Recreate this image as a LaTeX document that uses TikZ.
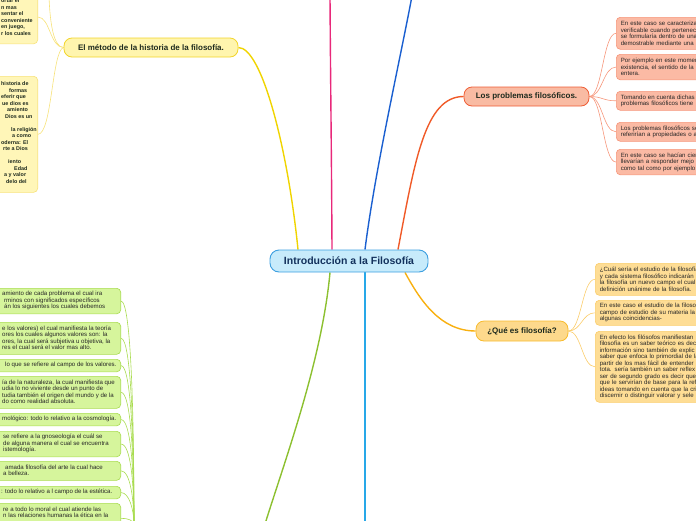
\documentclass[tikz,border=0pt]{standalone}
\usepackage{fontspec}
\setmainfont{Liberation Sans}
\usetikzlibrary{backgrounds}
\definecolor{cfill}{HTML}{C7EBFB}
\definecolor{cbord}{HTML}{3C9FE0}
\definecolor{ctext}{HTML}{13315C}
\definecolor{yfill}{HTML}{FFF5AE}
\definecolor{ybord}{HTML}{F2D52B}
\definecolor{ysfill}{HTML}{FFF6B8}
\definecolor{ysbord}{HTML}{F7E27A}
\definecolor{rfill}{HTML}{F9BBA3}
\definecolor{rbord}{HTML}{EF5D35}
\definecolor{rsfill}{HTML}{FBBAA4}
\definecolor{rsbord}{HTML}{F6967B}
\definecolor{ofill}{HTML}{FDD98C}
\definecolor{obord}{HTML}{F8BB2C}
\definecolor{osfill}{HTML}{FEDD95}
\definecolor{osbord}{HTML}{FBCD6B}
\definecolor{gsfill}{HTML}{D6F59C}
\definecolor{gsbord}{HTML}{A9DC50}
\definecolor{lyellow}{HTML}{F0D400}
\definecolor{lpink}{HTML}{E8287A}
\definecolor{lblue}{HTML}{1A5FD0}
\definecolor{lred}{HTML}{F05A28}
\definecolor{lorange}{HTML}{F8B010}
\definecolor{lcyan}{HTML}{28A8E8}
\definecolor{lgreen}{HTML}{8CC030}
\definecolor{subtext}{HTML}{262626}
\definecolor{titletext}{HTML}{1E2A1E}
\begin{document}
\begin{tikzpicture}[x=1pt,y=-1pt,
  central/.style={draw=cbord, fill=cfill, line width=0.9pt, rounded corners=9pt, minimum width=158pt, minimum height=22pt, inner sep=0pt, text=ctext, font=\bfseries\fontsize{10.5}{12}\selectfont},
  topic/.style={line width=0.8pt, rounded corners=8pt, inner sep=0pt, text=titletext, font=\bfseries\fontsize{8}{9}\selectfont},
  sbox/.style={line width=0.6pt, rounded corners=4pt, inner sep=0pt},
  stext/.style={inner sep=0pt, align=left, text=subtext, font=\fontsize{6.1}{6.5}\selectfont},
  mtext/.style={inner sep=0pt, align=left, text=titletext, font=\bfseries\fontsize{5.4}{6.5}\selectfont},
  rbox/.style={sbox, anchor=north west, align=left, text width=150pt, inner xsep=4.5pt, inner ysep=0pt, text=subtext, font=\fontsize{6.1}{6.5}\selectfont},
  gbox/.style={sbox, draw=gsbord, fill=gsfill, anchor=north east, minimum width=140pt},
  ybox/.style={sbox, draw=ysbord, fill=ysfill, anchor=north east, minimum width=60pt},
  branch/.style={line width=1.4pt},
  conn/.style={line width=0.6pt}]
\useasboundingbox (0,0) rectangle (696,520);
\begin{scope}
\clip (0,0) rectangle (696,520);
% central and main topics
\node[central] (c) at (349,261) {Introducción a la Filosofía};
\node[topic, draw=ybord, fill=yfill, minimum width=174pt, minimum height=19pt] (meth) at (151,47.5) {El método de la historia de la filosofía.};
\node[topic, draw=rbord, fill=rfill, minimum width=125pt, minimum height=19pt] (prob) at (526.5,96.5) {Los problemas filosóficos.};
\node[topic, draw=obord, fill=ofill, minimum width=92pt, minimum height=20pt] (que) at (522,331) {¿Qué es filosofía?};
% problems subtopics
\node[rbox, draw=rsbord, fill=rsfill, minimum height=32pt] (p1) at (616,17) {En este caso se caracteriza\\verificable cuando pertenec\\se formularía dentro de una\\demostrable mediante una};
\node[rbox, draw=rsbord, fill=rsfill, minimum height=25.5pt] (p2) at (616,54) {Por ejemplo en este momen\\existencia, el sentido de la\\entera.};
\node[rbox, draw=rsbord, fill=rsfill, minimum height=19pt] (p3) at (616,91) {Tomando en cuenta dichas\\problemas filosóficos tiene};
\node[rbox, draw=rsbord, fill=rsfill, minimum height=19pt] (p4) at (616,122) {Los problemas filosóficos se\\referirían a propiedades o a};
\node[rbox, draw=rsbord, fill=rsfill, minimum height=25.5pt] (p5) at (616,149) {En este caso se hacían cier\\llevarían a responder mejo\\como tal como por ejemplo};
% que subtopics
\node[rbox, draw=osbord, fill=osfill, minimum height=32pt] (q1) at (595,263) {¿Cuál sería el estudio de la filosofía\\y cada sistema filosófico indicarán\\la filosofía un nuevo campo el cual\\definición unánime de la filosofía.};
\node[rbox, draw=osbord, fill=osfill, minimum height=25pt] (q2) at (595,300) {En este caso el estudio de la filosof\\campo de estudio de su materia la\\algunas coincidencias-};
\node[rbox, draw=osbord, fill=osfill, minimum height=71pt] (q3) at (595,331) {En efecto los filósofos manifiestan\\filosofía es un saber teórico es decir\\información sino también de explic\\saber que enfoca lo primordial de la\\partir de los mas fácil de entender\\tota. sería también un saber reflex\\ser de segundo grado es decir que\\que le servirían de base para la ref\\ideas tomando en cuenta que la cri\\discernir o distinguir valorar y sele};
% method subtopics
\node[ybox, minimum height=53.5pt] (m1) at (38,-10) {};
\node[mtext, anchor=west] (m1t) at (1,17.2) {ortar el\\n mas\\sentar el\\conveniente\\en juego,\\r los cuales};
\node[ybox, minimum height=116pt] (m2) at (38,76) {};
\node[mtext, anchor=west] (m2t) at (1,132.5) {historia de\\\hspace*{8pt}formas\\eferir que\\\hspace*{1pt}ue dios es\\\hspace*{6pt}amiento\\\hspace*{4pt}Dios es un\\[6.5pt]\hspace*{10pt}la religión\\\hspace*{11pt}a como\\oderna: El\\\hspace*{2pt}rte a Dios\\[6.5pt]\hspace*{7pt}iento\\\hspace*{13pt}Edad\\\hspace*{3pt}a y valor\\\hspace*{5pt}delo del};
% green subtopics
\node[gbox, minimum height=25.5pt] (g1) at (121,288) {};
\node[stext, anchor=west] (g1t) at (2,300.75) {amiento de cada problema el cual ira\\\hspace*{2pt}rminos con significados específicos\\\hspace*{2pt}án los siguientes los cuales debemos};
\node[gbox, minimum height=32pt] (g2) at (121,322) {};
\node[stext, anchor=west] (g2t) at (2,338) {e los valores) el cual manifiesta la teoría\\ores los cuales algunos valores son: la\\ores, la cual será subjetiva u objetiva, la\\res el cual será el valor mas alto.};
\node[gbox, minimum height=12.5pt] (g3) at (121,359) {};
\node[stext, anchor=west] (g3t) at (5,365.25) {lo que se refiere al campo de los valores.};
\node[gbox, minimum height=32pt] (g4) at (121,376) {};
\node[stext, anchor=west] (g4t) at (2,392) {ía de la naturaleza, la cual manifiesta que\\udia lo no viviente desde un punto de\\tudia también el origen del mundo y de la\\do como realidad absoluta.};
\node[gbox, minimum height=12.5pt] (g5) at (121,413) {};
\node[stext, anchor=west] (g5t) at (2,419.25) {mológico: todo lo relativo a la cosmología.};
\node[gbox, minimum height=25.5pt] (g6) at (121,431) {};
\node[stext, anchor=west] (g6t) at (3,443.75) {se refiere a la gnoseología el cuál se\\de alguna manera el cual se encuentra\\istemología.};
\node[gbox, minimum height=19pt] (g7) at (121,461) {};
\node[stext, anchor=west] (g7t) at (3,470.5) {\hspace*{2pt}amada filosofía del arte la cual hace\\a belleza.};
\node[gbox, minimum height=12.5pt] (g8) at (121,486) {};
\node[stext, anchor=west] (g8t) at (1,492.25) {: todo lo relativo a l campo de la estética.};
\node[gbox, minimum height=30pt] (g9) at (121,503) {};
\node[stext, anchor=north west] (g9t) at (3,506.5) {re a todo lo moral el cual atiende las\\n las relaciones humanas la ética en la};
\coordinate (mtop) at (49,-4);
\coordinate (pinkend) at (330,-4);
\coordinate (blueend) at (412,-4);
\coordinate (cyanend) at (365,524);
\coordinate (greenend) at (265,524);
\coordinate (gb) at (134,526);
\end{scope}
\begin{scope}[on background layer]
\clip (0,0) rectangle (696,520);
% main branches
\draw[branch, lyellow] ([xshift=-51pt]c.north) .. controls (288,150) and (262,47.5) .. (meth.east);
\draw[branch, lpink] ([xshift=-17pt]c.north) .. controls (331.5,150) and (330.5,80) .. (pinkend);
\draw[branch, lblue] ([xshift=16pt]c.north) .. controls (375,170) and (400,60) .. (blueend);
\draw[branch, lred] ([xshift=49pt]c.north) .. controls (415,160) and (425,96.5) .. (prob.west);
\draw[branch, lorange] ([xshift=56pt]c.south) .. controls (420,300) and (440,331) .. (que.west);
\draw[branch, lcyan] ([xshift=16pt]c.south) -- (cyanend);
\draw[branch, lgreen] ([xshift=-19pt]c.south) .. controls (322,360) and (285,460) .. (greenend);
% problem connectors
\foreach \n in {p1,p2,p3,p4,p5}
  \draw[conn, rsbord] (prob.east) .. controls +(13,0) and +(-13,0) .. (\n.west);
% que connectors
\foreach \n in {q1,q2,q3}
  \draw[conn, osbord] (que.east) .. controls +(13,0) and +(-13,0) .. (\n.west);
% method connectors
\draw[conn, ysbord] (meth.west) .. controls (50,47.5) and (50,17) .. (m1.east);
\draw[conn, ysbord] (meth.west) .. controls (54,47.5) and (50,25) .. (mtop);
\draw[conn, ysbord] (meth.west) .. controls (52,50) and (52,134) .. (m2.east);
% green connectors
\draw[conn, gsbord] (g1.east) .. controls +(10,0) and +(0,-112) .. (gb);
\draw[conn, gsbord] (g2.east) .. controls +(10,0) and +(0,-94) .. (gb);
\draw[conn, gsbord] (g3.east) .. controls +(10,0) and +(0,-80) .. (gb);
\draw[conn, gsbord] (g4.east) .. controls +(10,0) and +(0,-67) .. (gb);
\draw[conn, gsbord] (g5.east) .. controls +(10,0) and +(0,-53) .. (gb);
\draw[conn, gsbord] (g6.east) .. controls +(10,0) and +(0,-41) .. (gb);
\draw[conn, gsbord] (g7.east) .. controls +(9,0) and +(0,-28) .. (gb);
\draw[conn, gsbord] (g8.east) .. controls +(8,0) and +(0,-17) .. (gb);
\draw[conn, gsbord] (g9.east) .. controls +(7,0) and +(0,-6) .. (gb);
\end{scope}
\end{tikzpicture}
\end{document}
